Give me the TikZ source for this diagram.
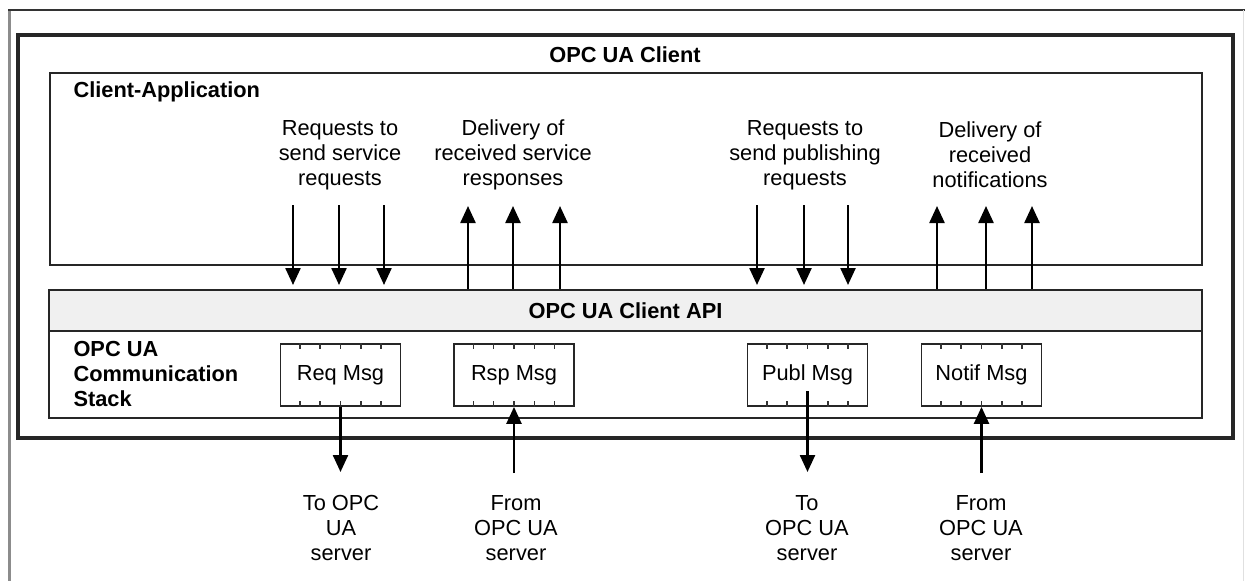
\documentclass[tikz,border=0pt]{standalone}
\usepackage{fontspec}
\setmainfont{Liberation Sans}
\usetikzlibrary{arrows.meta,calc}
\newcommand\diagfont{\fontsize{21.8}{25}\selectfont}
\definecolor{apigray}{HTML}{F0F0F0}
\begin{document}
\begin{tikzpicture}[x=1pt,y=-1pt,
    every node/.style={font=\diagfont, align=center},
    title/.style={font=\diagfont\bfseries},
    layer/.style={draw=black!85, line width=2pt, inner sep=0pt},
    msgbox/.style={draw=black!85, line width=1.8pt, minimum width=120pt, minimum height=62pt, inner sep=0pt},
    msgtick/.style={line width=1.5pt, black!80},
    flow/.style={line width=2.4pt, -{Triangle[width=15pt,length=17pt]}}]
  \useasboundingbox (0,0) rectangle (1245,581);
  % screen frame
  \draw[black!45, line width=3pt] (9,581) -- (9,10);
  \draw[black!80, line width=2pt] (8,10) -- (1245,10);
  \draw[black!12, line width=1pt] (1243,10) -- (1243,581);

  % layers
  \node[layer, line width=3.8pt, minimum width=1215pt, minimum height=403pt] (client) at (625.5,236.5) {};
  \node[layer, minimum width=1152pt, minimum height=192pt] (app) at (626,169) {};
  \node[layer, fill=apigray, minimum width=1153pt, minimum height=41pt] (api) at (625.5,310.5) {};
  \node[layer, minimum width=1153pt, minimum height=87pt] (stack) at (625.5,374.5) {};

  \node[title] (clientlbl) at (625,55) {OPC UA Client};
  \node[title, anchor=west] (applbl) at (70,92) {Client-Application};
  \node[title] (apilbl) at (api.center) {OPC UA Client API};
  \node[title, anchor=west, align=left] (stacklbl) at (70,374) {OPC UA\\Communication\\Stack};

  % messages in the stack
  \node[msgbox] (req) at (340.5,375) {Req Msg};
  \node[msgbox] (rsp) at (514,375) {Rsp Msg};
  \node[msgbox] (publ) at (807.5,375) {Publ Msg};
  \node[msgbox] (notif) at (981.5,375) {Notif Msg};
  \foreach \m in {req,rsp,publ,notif}
    \foreach \i in {1,...,5} {
      \draw[msgtick] ($(\m.north west)!\i/6!(\m.north east)$) -- ++(0,6);
      \draw[msgtick] ($(\m.south west)!\i/6!(\m.south east)$) -- ++(0,-6);
    }

  % application side
  \node (sendsvc) at (340,155) {Requests to\\send service\\requests};
  \node (recvsvc) at (513,155) {Delivery of\\received service\\responses};
  \node (sendpub) at (805,155) {Requests to\\send publishing\\requests};
  \node (recvnot) at (990,155) {Delivery of\\received\\notifications};

  \foreach \x/\n in {293/a,339/b,384/c,757/d,804/e,848/f} {
    \coordinate (dn\n) at (\x,205);
    \draw[flow, shorten >=4pt] (dn\n) -- (dn\n |- api.north);
  }
  \foreach \x/\n in {468/a,513/b,560/c,937/d,986/e,1032/f} {
    \coordinate (up\n) at (\x,206);
    \draw[flow] (up\n |- api.north) -- (up\n);
  }

  % server side
  \coordinate (reqout) at (340.5,472);
  \coordinate (rspin) at (514,473);
  \coordinate (publout) at (807.5,472);
  \coordinate (notifin) at (981.5,473);
  \draw[flow] (req.south) -- (reqout);
  \draw[flow] (rspin) -- (rsp.south);
  \draw[flow] ($(publ.center)+(0,16)$) -- (publout);
  \draw[flow] (notifin) -- (notif.south);

  \node (toserv1) at (341,528) {To OPC\\UA\\server};
  \node (fromserv1) at (516,528) {From\\OPC UA\\server};
  \node (toserv2) at (807,528) {To\\OPC UA\\server};
  \node (fromserv2) at (981,528) {From\\OPC UA\\server};
\end{tikzpicture}
\end{document}
